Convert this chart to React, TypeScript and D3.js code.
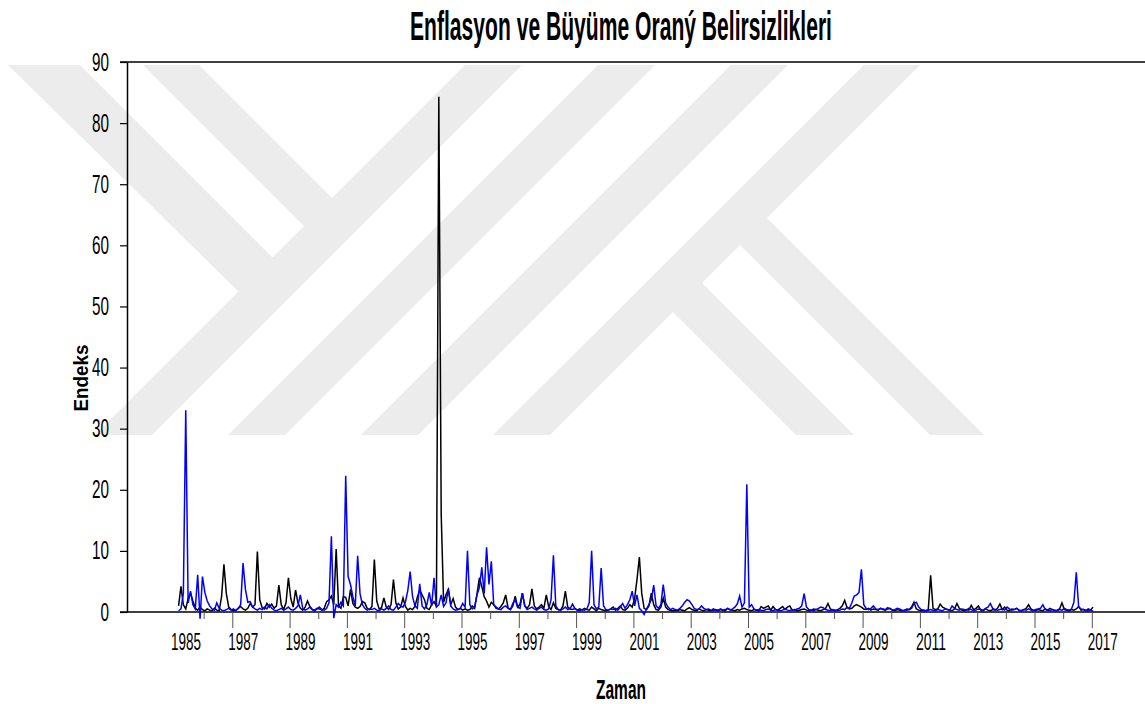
import React, { useEffect, useRef } from "react";
import * as d3 from "d3";

// aylik seriler, 1985:01 - 2016:12 (her satir bir yil)
const enflasyon = [
  1.0, 4.2, 1.2, 0.5, 2.2, 3.1, 1.8, 0.6, 0.3, 0.8, 0.4, 0.2, // 1985
  0.5, 0.3, 0.2, 0.6, 0.3, 0.2, 2.5, 7.8, 3.0, 0.8, 0.4, 0.2, // 1986
  0.3, 0.6, 0.9, 0.5, 0.3, 0.6, 1.4, 0.8, 1.2, 9.9, 2.0, 0.7, // 1987
  0.5, 1.4, 0.8, 1.3, 0.6, 1.0, 4.4, 1.2, 0.4, 1.5, 5.6, 2.2, // 1988
  0.8, 3.6, 1.5, 0.6, 0.3, 0.8, 1.8, 0.9, 0.4, 0.3, 0.6, 0.5, // 1989
  0.3, 0.6, 1.7, 2.0, 2.6, 1.2, 10.3, 1.0, 0.6, 2.5, 2.4, 1.0, // 1990
  3.7, 1.4, 0.8, 0.6, 0.9, 1.7, 1.5, 0.6, 0.4, 0.9, 8.6, 1.8, // 1991
  0.5, 0.7, 2.3, 0.8, 0.4, 1.2, 5.3, 1.5, 0.5, 0.8, 2.3, 0.9, // 1992
  0.3, 0.6, 0.4, 0.9, 2.4, 3.6, 2.8, 2.0, 0.6, 0.4, 1.2, 1.7, // 1993
  0.9, 84.3, 16.0, 1.6, 2.8, 3.7, 1.2, 2.2, 0.8, 0.4, 0.6, 0.3, // 1994
  0.5, 0.3, 0.4, 1.0, 0.6, 3.0, 5.6, 4.2, 2.5, 1.8, 0.8, 1.6, // 1995
  1.2, 0.6, 0.5, 0.9, 1.5, 2.8, 0.7, 0.4, 1.0, 2.6, 0.8, 1.3, // 1996
  3.1, 1.0, 0.6, 1.2, 3.8, 1.0, 0.5, 0.8, 1.2, 0.6, 2.8, 0.9, // 1997
  0.4, 1.5, 0.6, 0.4, 0.3, 1.0, 3.4, 0.8, 0.5, 0.4, 0.6, 0.3, // 1998
  0.5, 0.3, 0.6, 0.4, 0.3, 0.8, 0.5, 0.2, 0.6, 0.4, 0.3, 0.2, // 1999
  0.3, 0.5, 0.8, 0.3, 0.6, 1.0, 0.4, 0.3, 0.6, 1.2, 0.8, 2.2, // 2000
  5.3, 9.0, 3.0, 0.6, 0.4, 1.0, 3.1, 1.2, 0.4, 0.3, 0.8, 2.3, // 2001
  0.8, 0.4, 0.3, 0.2, 0.3, 0.2, 0.4, 0.3, 0.2, 0.5, 0.7, 0.4, // 2002
  0.3, 0.2, 0.5, 0.3, 0.2, 0.4, 0.3, 0.2, 0.5, 0.3, 0.2, 0.4, // 2003
  0.3, 0.2, 0.6, 0.4, 0.3, 0.2, 0.4, 0.3, 0.5, 0.6, 0.4, 0.3, // 2004
  0.2, 0.4, 0.3, 0.2, 0.9, 0.6, 0.8, 1.0, 0.3, 0.9, 0.4, 0.3, // 2005
  0.6, 0.9, 0.4, 0.8, 1.0, 0.3, 0.4, 0.2, 0.3, 0.4, 0.5, 0.3, // 2006
  0.2, 0.3, 0.5, 0.4, 0.3, 0.2, 0.4, 0.6, 1.4, 0.5, 0.3, 0.2, // 2007
  0.4, 0.6, 1.0, 1.9, 0.7, 0.5, 0.6, 1.0, 1.2, 1.0, 0.8, 0.5, // 2008
  0.4, 0.6, 0.3, 0.5, 0.4, 0.3, 0.6, 0.4, 0.3, 0.5, 0.6, 0.3, // 2009
  0.2, 0.4, 0.3, 0.2, 0.3, 0.5, 0.4, 0.8, 1.6, 0.5, 0.3, 0.2, // 2010
  0.3, 0.2, 0.4, 6.0, 0.6, 0.4, 0.5, 1.3, 0.8, 0.6, 0.4, 0.3, // 2011
  0.2, 0.5, 1.4, 0.6, 0.3, 0.2, 0.4, 0.3, 1.1, 0.4, 0.6, 1.0, // 2012
  0.3, 0.2, 0.5, 0.3, 0.2, 0.4, 0.3, 0.6, 1.3, 0.4, 0.8, 0.3, // 2013
  0.2, 0.5, 0.4, 0.6, 0.3, 0.2, 0.4, 0.6, 1.2, 0.5, 0.3, 0.2, // 2014
  0.4, 0.3, 0.2, 0.5, 0.3, 0.6, 0.4, 0.2, 0.3, 0.5, 1.5, 0.4, // 2015
  0.3, 0.2, 0.4, 0.3, 0.5, 0.9, 0.3, 0.4, 0.2, 0.5, 0.3, 0.8, // 2016
];

const buyume = [
  0.2, 0.5, 3.0, 33.0, 1.5, 3.4, 1.2, 0.5, 6.1, -1.1, 5.8, 3.2, // 1985
  1.8, 1.0, 0.5, 0.3, 1.5, 0.6, 0.3, 0.2, 0.4, 0.6, 0.3, 0.5, // 1986
  0.2, 0.6, 1.2, 8.0, 3.7, 1.6, 1.7, 0.8, 0.5, 0.3, 0.6, 0.4, // 1987
  0.8, 0.5, 1.2, 0.6, 0.3, 0.2, 0.4, 0.6, 0.3, 0.5, 0.8, 0.4, // 1988
  0.3, 0.6, 1.0, 2.8, 0.6, 0.3, 0.5, 0.8, 0.4, 0.2, 0.5, 0.8, // 1989
  0.4, 0.3, 0.6, 1.5, 12.4, -1.0, 1.2, 0.8, 1.6, 1.0, 22.3, 5.8, // 1990
  4.5, 2.5, 1.0, 9.2, 3.0, 1.2, 0.6, 0.3, 0.5, 0.4, 0.6, 0.3, // 1991
  0.2, 0.5, 0.3, 0.6, 1.0, 0.4, 0.3, 0.8, 1.4, 1.0, 0.8, 1.6, // 1992
  3.5, 6.6, 2.5, 1.0, 0.6, 4.6, 1.0, 0.5, 1.2, 3.2, 1.0, 5.6, // 1993
  0.8, 1.2, 2.8, 0.9, 1.5, 3.8, 1.0, 0.5, 0.3, 0.4, 0.6, 1.4, // 1994
  0.8, 10.0, 1.2, 0.5, 0.8, 2.8, 4.0, 7.3, 3.0, 10.6, 4.5, 8.3, // 1995
  1.2, 0.8, 0.5, 0.4, 0.8, 1.0, 0.6, 0.4, 1.4, 2.0, 0.8, 0.6, // 1996
  3.1, 1.0, 0.4, 0.6, 0.8, 0.5, 0.3, 0.6, 0.8, 0.4, 0.3, 0.5, // 1997
  2.0, 9.3, 1.0, 0.4, 0.3, 0.5, 0.8, 0.4, 0.6, 1.3, 0.5, 0.3, // 1998
  0.2, 0.4, 0.3, 0.5, 1.5, 10.0, 1.2, 0.5, 0.8, 7.2, 1.0, 0.4, // 1999
  0.3, 0.5, 0.4, 0.6, 0.3, 0.8, 1.4, 0.6, 1.2, 2.0, 3.4, 1.0, // 2000
  2.8, 0.6, 0.2, -0.4, 0.5, 1.2, 2.0, 4.4, 1.0, 0.6, 1.2, 4.5, // 2001
  1.5, 0.8, 0.4, 0.6, 0.4, 0.3, 0.6, 1.0, 1.6, 2.0, 1.8, 1.2, // 2002
  0.6, 0.4, 0.5, 1.0, 0.6, 0.4, 0.5, 0.3, 0.2, 0.4, 0.3, 0.5, // 2003
  0.3, 0.4, 0.6, 0.3, 0.5, 0.8, 1.3, 2.6, 0.8, 1.5, 20.9, 0.8, // 2004
  1.2, 0.5, 0.3, 0.4, 0.3, 0.2, 0.4, 0.5, 0.3, 0.2, 0.4, 0.3, // 2005
  0.2, 0.3, 0.5, 0.3, 0.2, 0.4, 0.3, 0.5, 0.6, 1.0, 3.0, 0.8, // 2006
  0.4, 0.3, 0.2, 0.4, 0.6, 0.8, 0.7, 0.4, 0.3, 0.2, 0.4, 0.3, // 2007
  0.2, 0.3, 0.5, 0.4, 0.8, 0.6, 1.5, 2.6, 2.8, 3.2, 7.0, 1.2, // 2008
  0.6, 0.4, 0.6, 1.0, 0.5, 0.4, 0.6, 0.5, 0.4, 0.7, 0.5, 0.3, // 2009
  0.4, 0.6, 0.5, 0.3, 0.2, 0.3, 0.4, 0.6, 1.4, 1.6, 0.8, 0.4, // 2010
  0.3, 0.2, 0.3, 0.4, 0.3, 0.2, 0.4, 0.3, 0.2, 0.5, 0.4, 0.3, // 2011
  1.0, 0.6, 0.4, 0.3, 0.5, 0.4, 0.3, 0.6, 0.4, 0.2, 0.3, 0.5, // 2012
  0.4, 0.3, 0.6, 0.8, 1.4, 0.6, 0.4, 0.3, 0.4, 0.5, 0.3, 0.8, // 2013
  0.5, 0.3, 0.4, 0.6, 0.3, 0.2, 0.4, 0.3, 0.5, 0.3, 0.2, 0.4, // 2014
  0.5, 0.6, 1.2, 0.4, 0.3, 0.2, 0.4, 0.3, 0.2, 0.4, 0.3, 0.6, // 2015
  0.4, 0.3, 0.5, 1.6, 6.5, 0.8, 0.5, 0.4, 0.3, 0.2, 0.4, 0.1, // 2016
];

const yTicks = [0, 10, 20, 30, 40, 50, 60, 70, 80, 90];
const yearTicks = [
  1986, 1987, 1988, 1989, 1990, 1991, 1992, 1993, 1994, 1995, 1996,
  1997, 1998, 1999, 2000, 2001, 2002, 2003, 2004, 2005, 2006, 2007,
  2008, 2009, 2010, 2011, 2012, 2013, 2014, 2015, 2016, 2017,
];
const yearLabels = [
  1985, 1987, 1989, 1991, 1993, 1995, 1997, 1999, 2001, 2003, 2005,
  2007, 2009, 2011, 2013, 2015, 2017,
];

// arka plandaki gri filigran (YÖK logosu)
const watermark: number[][][] = [
  [[465, 65], [522, 65], [152, 435], [95, 435]],
  [[598, 65], [655, 65], [285, 435], [228, 435]],
  [[731, 65], [788, 65], [418, 435], [361, 435]],
  [[864, 65], [920, 65], [550, 435], [493, 435]],
  [[143, 65], [199, 65], [342, 208], [314, 236]],
  [[8, 65], [80, 65], [283, 268], [248, 301]],
  [[757, 208], [984, 435], [930, 435], [730, 235]],
  [[692, 273], [854, 435], [796, 435], [663, 302]],
];

// metni yatayda sikistirarak istenen genislige oturt
function squeeze(sel: any, pre: string, target: number) {
  const w = sel.node().getComputedTextLength() || target;
  sel.attr("transform", `${pre} scale(${target / w},1)`);
}

export default function App() {
  const ref = useRef<SVGSVGElement>(null);

  useEffect(() => {
    const svg = d3.select(ref.current);
    svg.selectAll("*").remove();
    const width = 1145;
    const height = 704;
    const narrow = "'Liberation Sans Narrow', 'Liberation Sans', Arial, sans-serif";

    const x = d3.scaleLinear().domain([1985, 2017]).range([175, 1091.8]);
    const y = d3.scaleLinear().domain([0, 90]).range([612, 62]);
    const t = (i: number) => 1985 + (i + 1.5) / 12;

    svg.append("rect").attr("width", width).attr("height", height).attr("fill", "#fff");

    svg.append("g")
      .selectAll("polygon")
      .data(watermark)
      .join("polygon")
      .attr("points", (d) => d.map((p) => p.join(",")).join(" "))
      .attr("fill", "#ececec");

    // title
    const title = svg.append("text")
      .attr("text-anchor", "middle")
      .attr("font-family", narrow).attr("font-weight", "bold").attr("font-size", 40)
      .text("Enflasyon ve Büyüme Oraný Belirsizlikleri");
    squeeze(title, "translate(621,40)", 422);

    // y axis
    const gy = svg.append("g").attr("transform", "translate(127,0)")
      .call(d3.axisLeft(y).tickValues(yTicks).tickSize(7).tickSizeOuter(0).tickPadding(11));
    gy.select(".domain").attr("stroke", "#000").attr("stroke-width", 1.5);
    gy.selectAll(".tick line").attr("stroke", "#000").attr("stroke-width", 1.2);
    gy.selectAll(".tick text")
      .attr("font-family", narrow).attr("font-size", 25).attr("fill", "#000")
      .attr("x", 0)
      .each(function (this: any, d: any) {
        squeeze(d3.select(this), "translate(-18,0)", d === 0 ? 8.5 : 17);
      });

    // frame lines
    svg.append("line").attr("x1", 120).attr("x2", width).attr("y1", 62).attr("y2", 62)
      .attr("stroke", "#000").attr("stroke-width", 1.5);
    svg.append("line").attr("x1", 120).attr("x2", width).attr("y1", 612).attr("y2", 612)
      .attr("stroke", "#000").attr("stroke-width", 1.5);

    // x ticks
    const gx = svg.append("g").attr("transform", "translate(0,612)")
      .call(d3.axisBottom(x).tickValues(yearTicks).tickFormat(() => "").tickSizeOuter(0));
    gx.select(".domain").remove();
    gx.selectAll(".tick line")
      .attr("y2", (d: any) => (d % 2 === 1 ? 16 : 7))
      .attr("stroke", "#555");

    svg.append("g")
      .selectAll("text")
      .data(yearLabels)
      .join("text")
      .attr("text-anchor", "middle")
      .attr("font-family", narrow).attr("font-size", 24)
      .text((d) => String(d))
      .each(function (this: any, d: number) {
        squeeze(d3.select(this), `translate(${x(d) + 11},650)`, 30);
      });

    // axis titles
    const xt = svg.append("text")
      .attr("text-anchor", "middle")
      .attr("font-family", narrow).attr("font-weight", "bold").attr("font-size", 27)
      .text("Zaman");
    squeeze(xt, "translate(621,699)", 50);

    const yt = svg.append("text")
      .attr("text-anchor", "middle")
      .attr("font-family", "'Liberation Sans', Arial, sans-serif")
      .attr("font-weight", "bold").attr("font-size", 20)
      .text("Endeks");
    squeeze(yt, "translate(88,378) rotate(-90)", 67);

    // series
    const line = d3.line<number>()
      .x((d, i) => x(t(i)))
      .y((d) => y(d));

    svg.append("path").datum(enflasyon)
      .attr("d", line).attr("fill", "none")
      .attr("stroke", "#000").attr("stroke-width", 1.5);

    svg.append("path").datum(buyume)
      .attr("d", line).attr("fill", "none")
      .attr("stroke", "#0000ff").attr("stroke-width", 1.5);
  }, []);

  return (
    <svg
      ref={ref}
      width={1145}
      height={704}
      style={{ position: "absolute", left: 0, top: 0 }}
    />
  );
}
